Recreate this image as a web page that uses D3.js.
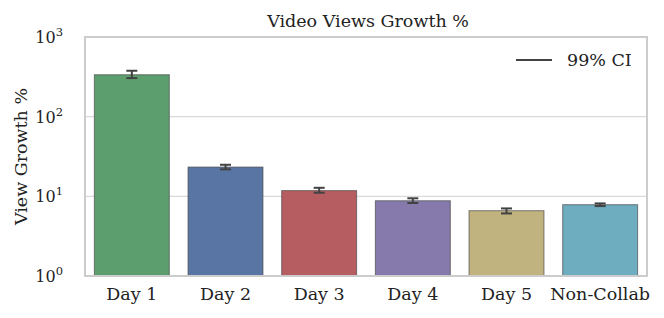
<!DOCTYPE html>
<html>
<head>
<meta charset="utf-8">
<script src="https://cdn.jsdelivr.net/npm/d3@7"></script>
<style>
  body { margin: 0; background: #fff; }
  text { font-family: "DejaVu Serif", serif; fill: #222; }
</style>
</head>
<body>
<div id="chart"></div>
<script>
// bar data
const categories = ["Day 1", "Day 2", "Day 3", "Day 4", "Day 5", "Non-Collab"];
const growth = [336, 23.3, 11.8, 8.8, 6.6, 7.85];
const ciLow = [305, 21.8, 11.1, 8.25, 6.1, 7.55];
const ciHigh = [377, 24.9, 12.8, 9.45, 7.05, 8.15];
const barColors = ["#5d9e6f", "#5975a4", "#b55d60", "#857aab", "#c1b37f", "#6eadc0"];
const yTicks = [1, 10, 100, 1000];

const width = 664, height = 318;
const margin = { top: 37, right: 17, bottom: 42, left: 85 };

const svg = d3.select("#chart").append("svg")
  .attr("width", width)
  .attr("height", height);

const x = d3.scaleBand()
  .domain(categories)
  .range([margin.left, width - margin.right])
  .paddingInner(0.2)
  .paddingOuter(0.1);

const y = d3.scaleLog()
  .domain([1, 1000])
  .range([height - margin.bottom, margin.top]);

// gridlines
svg.append("g")
  .selectAll("line")
  .data(yTicks)
  .join("line")
  .attr("x1", margin.left)
  .attr("x2", width - margin.right)
  .attr("y1", d => y(d))
  .attr("y2", d => y(d))
  .attr("stroke", "#d9d9d9")
  .attr("stroke-width", 1.2);

// bars
svg.append("g")
  .selectAll("rect")
  .data(categories)
  .join("rect")
  .attr("x", d => x(d))
  .attr("width", x.bandwidth())
  .attr("y", (d, i) => y(growth[i]))
  .attr("height", (d, i) => y(1) - y(growth[i]))
  .attr("fill", (d, i) => barColors[i])
  .attr("stroke", "#4a4a4a")
  .attr("stroke-opacity", 0.7)
  .attr("stroke-width", 1);

// error bars
const err = svg.append("g").attr("stroke", "#424242").attr("stroke-width", 2);
categories.forEach((c, i) => {
  const cx = x(c) + x.bandwidth() / 2;
  err.append("line").attr("x1", cx).attr("x2", cx)
    .attr("y1", y(ciLow[i])).attr("y2", y(ciHigh[i]));
  [ciLow[i], ciHigh[i]].forEach(v => {
    err.append("line").attr("x1", cx - 5.5).attr("x2", cx + 5.5)
      .attr("y1", y(v)).attr("y2", y(v));
  });
});

// frame
svg.append("rect")
  .attr("x", margin.left)
  .attr("y", margin.top)
  .attr("width", width - margin.left - margin.right)
  .attr("height", height - margin.top - margin.bottom)
  .attr("fill", "none")
  .attr("stroke", "#cccccc")
  .attr("stroke-width", 2);

// y tick labels with superscript
const yl = svg.append("g")
  .selectAll("text")
  .data(yTicks)
  .join("text")
  .attr("x", 63)
  .attr("y", d => y(d) + 6)
  .attr("text-anchor", "end")
  .style("font-size", "16px");
yl.append("tspan").text("10");
yl.append("tspan")
  .attr("dy", -7)
  .style("font-size", "11.5px")
  .text(d => Math.round(Math.log10(d)));

// x tick labels
svg.append("g")
  .selectAll("text")
  .data(categories)
  .join("text")
  .attr("x", d => x(d) + x.bandwidth() / 2)
  .attr("y", 300)
  .attr("text-anchor", "middle")
  .style("font-size", "17.5px")
  .text(d => d);

// axis label
svg.append("text")
  .attr("transform", `translate(27, ${(margin.top + height - margin.bottom) / 2}) rotate(-90)`)
  .attr("text-anchor", "middle")
  .style("font-size", "17.5px")
  .text("View Growth %");

// title
svg.append("text")
  .attr("x", 368)
  .attr("y", 27)
  .attr("text-anchor", "middle")
  .style("font-size", "17.5px")
  .text("Video Views Growth %");

// legend
svg.append("line")
  .attr("x1", 516).attr("x2", 552)
  .attr("y1", 60).attr("y2", 60)
  .attr("stroke", "#424242")
  .attr("stroke-width", 2);
svg.append("text")
  .attr("x", 567)
  .attr("y", 66)
  .style("font-size", "17.5px")
  .text("99% CI");
</script>
</body>
</html>
